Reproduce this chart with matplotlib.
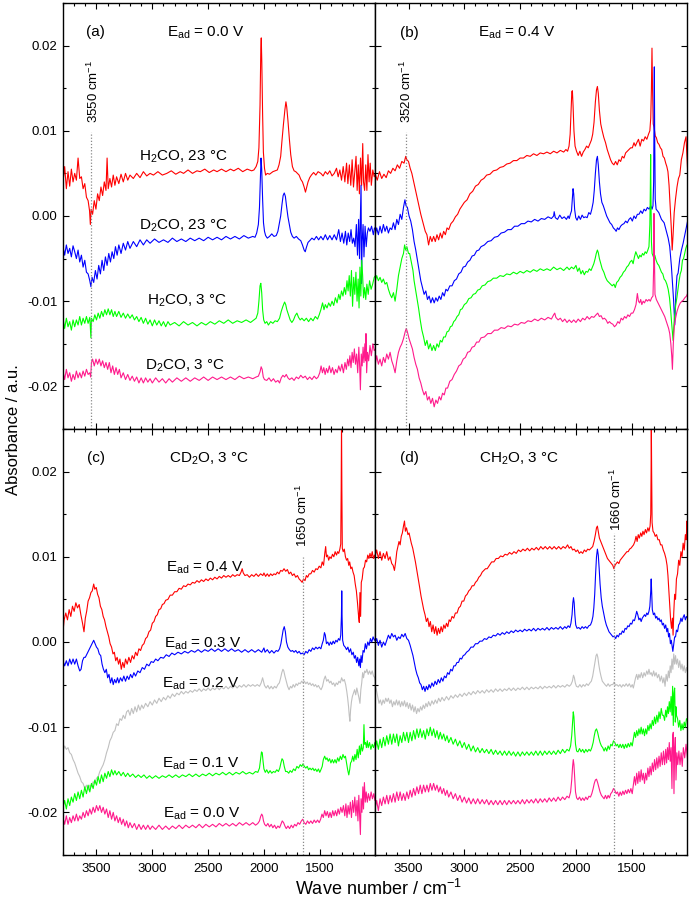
"""
FTIR difference spectra, 2x2 panels: (a)/(b) isotopes at two potentials,
(c)/(d) potential series for CD2O and CH2O at 3 degC.
"""

import matplotlib

matplotlib.use("Agg")
import matplotlib.pyplot as plt  # noqa: E402
from matplotlib.ticker import FormatStrFormatter, MultipleLocator  # noqa: E402

plt.rcParams["font.family"] = ["Liberation Sans", "DejaVu Sans"]
plt.rcParams["mathtext.fontset"] = "custom"
plt.rcParams["mathtext.rm"] = "Liberation Sans"
plt.rcParams["mathtext.it"] = "Liberation Sans"
plt.rcParams["mathtext.bf"] = "Liberation Sans:bold"

# every spectrum: (wave number / cm-1, absorbance / 1e-3 a.u.)

# ---- panel (a), E_ad = 0.0 V ----
A_H2CO_23C = [
    (3800, 4.0), (3785, 5.8), (3770, 3.2), (3755, 5.2), (3740, 3.5), (3725, 5.5), (3710, 4.0),
    (3695, 5.0), (3680, 4.2), (3665, 6.8), (3650, 4.4), (3635, 4.6), (3620, 3.2), (3605, 3.8),
    (3590, 2.2), (3575, 1.8), (3562, 0.6), (3555, -1.0), (3548, 0.8), (3535, 0.2), (3520, 1.8),
    (3505, 0.8), (3490, 2.6), (3475, 1.8), (3460, 3.4), (3445, 2.4), (3430, 4.0), (3415, 3.0),
    (3405, 6.8), (3395, 3.2), (3380, 4.4), (3365, 3.4), (3350, 4.8), (3335, 3.6), (3320, 4.6),
    (3300, 3.8), (3280, 4.9), (3260, 4.0), (3240, 5.0), (3220, 4.2), (3200, 4.8), (3170, 4.4),
    (3140, 5.0), (3110, 4.5), (3080, 5.2), (3050, 4.7), (3020, 5.0), (2990, 4.8), (2950, 5.2),
    (2910, 4.8), (2870, 5.0), (2830, 5.3), (2790, 4.9), (2750, 5.2), (2720, 5.0), (2680, 5.4),
    (2640, 5.0), (2600, 5.3), (2570, 5.2), (2530, 5.5), (2490, 5.1), (2450, 5.4), (2420, 5.2),
    (2380, 5.5), (2340, 5.2), (2300, 5.5), (2270, 5.3), (2230, 5.6), (2190, 5.2), (2150, 5.5),
    (2110, 5.3), (2090, 5.4), (2070, 5.8), (2055, 6.4), (2045, 8.0), (2035, 13.0), (2028, 19.5),
    (2024, 20.9), (2019, 18.0), (2012, 12.0), (2005, 7.5), (1995, 5.6), (1985, 4.8), (1970, 5.0),
    (1950, 4.9), (1920, 5.2), (1900, 5.3), (1880, 5.4), (1865, 6.0), (1850, 7.0), (1838, 8.9),
    (1825, 10.8), (1812, 12.5), (1803, 13.4), (1796, 12.8), (1785, 11.2), (1772, 9.0),
    (1760, 7.2), (1745, 5.8), (1730, 5.3), (1715, 5.2), (1700, 5.0), (1685, 4.8), (1670, 4.3),
    (1655, 4.0), (1640, 3.4), (1628, 2.8), (1618, 3.3), (1605, 4.0), (1590, 4.5), (1575, 4.8),
    (1555, 5.1), (1535, 4.8), (1515, 5.2), (1490, 5.0), (1470, 4.7), (1450, 5.2), (1430, 4.9),
    (1410, 5.3), (1390, 4.7), (1370, 5.0), (1350, 5.6), (1335, 4.6), (1320, 5.4), (1305, 4.2),
    (1290, 5.8), (1275, 4.0), (1260, 6.2), (1248, 3.8), (1235, 6.0), (1222, 3.6), (1210, 6.6),
    (1198, 3.4), (1186, 5.2), (1175, 7.0), (1165, 3.0), (1155, 6.0), (1145, 2.6), (1135, 6.8),
    (1125, 3.6), (1115, 8.5), (1108, 4.0), (1098, 3.0), (1088, 6.0), (1078, 3.0), (1068, 7.2),
    (1058, 4.0), (1048, 6.2), (1038, 3.6), (1025, 5.4), (1012, 4.6), (1000, 5.0),
]
A_D2CO_23C = [
    (3800, -3.6), (3785, -4.6), (3770, -3.4), (3755, -4.4), (3740, -3.8), (3725, -4.8),
    (3710, -3.5), (3695, -4.2), (3680, -5.0), (3665, -4.0), (3650, -5.4), (3635, -4.6),
    (3620, -6.0), (3605, -5.2), (3590, -6.6), (3575, -6.8), (3560, -7.6), (3550, -8.3),
    (3540, -7.2), (3525, -7.8), (3510, -6.4), (3495, -7.4), (3480, -5.8), (3465, -6.8),
    (3450, -5.2), (3435, -6.4), (3420, -4.8), (3405, -5.8), (3390, -4.4), (3375, -5.4),
    (3360, -4.2), (3345, -5.0), (3330, -3.6), (3315, -4.6), (3300, -3.4), (3280, -4.4),
    (3260, -3.2), (3240, -4.0), (3220, -3.0), (3200, -3.8), (3170, -3.0), (3140, -3.6),
    (3110, -2.8), (3080, -3.4), (3050, -2.8), (3020, -3.2), (2980, -2.7), (2940, -3.1),
    (2900, -2.8), (2860, -3.1), (2820, -2.6), (2780, -3.0), (2740, -2.7), (2700, -3.0),
    (2660, -2.6), (2620, -2.9), (2580, -2.6), (2540, -2.9), (2500, -2.5), (2460, -2.8),
    (2420, -2.5), (2380, -2.8), (2340, -2.4), (2300, -2.7), (2260, -2.4), (2220, -2.7),
    (2180, -2.3), (2140, -2.6), (2100, -2.4), (2080, -2.5), (2065, -2.0), (2050, -1.0),
    (2040, 1.0), (2032, 4.5), (2026, 6.8), (2020, 5.5), (2012, 2.0), (2004, -0.8), (1995, -1.8),
    (1985, -2.3), (1970, -2.6), (1950, -2.4), (1930, -2.1), (1910, -2.4), (1890, -2.3),
    (1875, -1.8), (1862, -0.9), (1850, 0.0), (1838, 1.4), (1828, 2.4), (1818, 2.7), (1808, 2.3),
    (1798, 1.2), (1785, -0.1), (1772, -1.0), (1760, -1.9), (1745, -2.4), (1730, -2.6),
    (1710, -2.4), (1690, -2.7), (1670, -2.9), (1655, -3.4), (1640, -4.0), (1630, -4.2),
    (1620, -3.7), (1605, -3.1), (1590, -2.9), (1570, -2.6), (1550, -2.8), (1530, -2.4),
    (1510, -2.8), (1490, -2.4), (1470, -2.8), (1450, -2.2), (1430, -2.8), (1410, -2.3),
    (1390, -2.8), (1370, -2.2), (1350, -2.8), (1330, -1.6), (1315, -3.0), (1300, -2.0),
    (1285, -3.2), (1270, -1.8), (1258, -3.4), (1245, -2.0), (1232, -3.0), (1220, -1.6),
    (1208, -3.2), (1196, -2.6), (1184, -3.6), (1172, -1.0), (1162, -4.6), (1152, -0.4),
    (1144, -5.0), (1136, 0.2), (1130, 3.6), (1126, -7.9), (1120, -3.0), (1112, -1.0),
    (1104, -4.8), (1094, -1.2), (1084, -3.6), (1074, -2.0), (1064, -1.4), (1050, -1.8),
    (1036, -1.2), (1020, -2.2), (1010, -1.4), (1000, -1.6),
]
A_H2CO_3C = [
    (3800, -12.0), (3785, -13.2), (3770, -12.0), (3755, -13.0), (3740, -12.4), (3725, -13.4),
    (3710, -12.2), (3695, -13.0), (3680, -12.2), (3665, -12.8), (3650, -11.8), (3635, -12.8),
    (3620, -12.0), (3605, -12.6), (3590, -11.8), (3575, -12.6), (3560, -11.9), (3550, -14.3),
    (3545, -12.0), (3530, -12.4), (3515, -11.6), (3500, -12.2), (3485, -11.4), (3470, -12.0),
    (3455, -11.2), (3440, -11.8), (3425, -11.0), (3410, -11.6), (3395, -10.9), (3380, -11.6),
    (3365, -11.0), (3350, -11.8), (3335, -11.2), (3320, -11.8), (3300, -11.2), (3280, -11.9),
    (3260, -11.4), (3240, -12.0), (3220, -11.5), (3200, -12.0), (3180, -11.6), (3160, -12.2),
    (3140, -11.8), (3120, -12.4), (3100, -11.9), (3080, -12.6), (3060, -12.0), (3040, -12.7),
    (3020, -12.2), (3000, -12.9), (2980, -12.2), (2960, -12.8), (2940, -12.3), (2920, -12.9),
    (2900, -12.4), (2880, -13.0), (2860, -12.4), (2840, -12.8), (2800, -12.5), (2760, -12.9),
    (2720, -12.4), (2680, -12.8), (2640, -12.5), (2600, -12.9), (2560, -12.5), (2520, -12.8),
    (2480, -12.4), (2440, -12.7), (2400, -12.3), (2360, -12.6), (2320, -12.2), (2280, -12.6),
    (2240, -12.3), (2200, -12.5), (2160, -12.2), (2120, -12.5), (2090, -12.2), (2070, -12.0),
    (2055, -11.4), (2045, -10.0), (2035, -8.2), (2028, -7.9), (2020, -9.0), (2012, -11.0),
    (2002, -12.2), (1990, -12.6), (1975, -12.4), (1960, -12.8), (1940, -12.4), (1920, -12.6),
    (1900, -12.3), (1880, -12.4), (1860, -12.0), (1845, -11.2), (1830, -10.6), (1815, -10.1),
    (1805, -10.4), (1795, -11.0), (1780, -11.6), (1765, -12.2), (1750, -12.5), (1735, -12.2),
    (1720, -11.7), (1705, -11.4), (1690, -11.9), (1675, -12.2), (1660, -12.0), (1640, -12.3),
    (1620, -12.0), (1600, -12.4), (1580, -12.0), (1560, -12.3), (1540, -11.8), (1520, -12.1),
    (1505, -11.6), (1490, -11.0), (1475, -10.2), (1462, -11.0), (1450, -10.4), (1435, -10.8),
    (1420, -10.2), (1405, -10.6), (1390, -10.0), (1375, -10.5), (1360, -9.6), (1345, -10.2),
    (1330, -9.2), (1318, -9.8), (1305, -8.8), (1292, -9.4), (1280, -8.4), (1268, -9.2),
    (1256, -7.6), (1246, -8.8), (1236, -7.0), (1226, -9.4), (1216, -6.4), (1206, -10.6),
    (1196, -7.2), (1186, -9.2), (1176, -6.6), (1166, -10.0), (1156, -7.4), (1148, -10.8),
    (1140, -6.0), (1132, -9.4), (1124, -5.2), (1116, -7.0), (1108, -9.6), (1098, -8.4),
    (1088, -9.8), (1078, -8.0), (1066, -9.2), (1054, -7.6), (1040, -8.6), (1026, -8.0),
    (1012, -7.2), (1000, -7.0),
]
A_D2CO_3C = [
    (3800, -18.2), (3785, -19.2), (3770, -18.0), (3755, -19.0), (3740, -18.4), (3725, -19.4),
    (3710, -18.6), (3695, -19.2), (3680, -18.2), (3665, -19.0), (3650, -18.4), (3635, -19.0),
    (3620, -18.2), (3605, -18.8), (3590, -18.0), (3575, -18.6), (3560, -18.4), (3552, -18.9),
    (3545, -17.2), (3535, -16.8), (3520, -17.6), (3505, -16.8), (3490, -17.4), (3475, -16.8),
    (3460, -17.6), (3445, -17.0), (3430, -17.8), (3415, -17.2), (3400, -18.0), (3385, -17.2),
    (3370, -18.4), (3355, -17.6), (3340, -18.6), (3325, -17.8), (3310, -18.6), (3295, -18.0),
    (3280, -19.0), (3260, -18.4), (3240, -19.2), (3220, -18.6), (3200, -19.3), (3180, -18.8),
    (3160, -19.4), (3140, -18.9), (3120, -19.6), (3100, -19.0), (3080, -19.6), (3060, -19.0),
    (3040, -19.5), (3020, -19.1), (3000, -19.6), (2970, -19.0), (2940, -19.5), (2910, -19.1),
    (2880, -19.6), (2850, -19.1), (2820, -19.5), (2780, -19.0), (2740, -19.4), (2700, -19.0),
    (2660, -19.4), (2620, -19.0), (2580, -19.3), (2540, -18.9), (2500, -19.3), (2460, -18.9),
    (2420, -19.2), (2380, -18.9), (2340, -19.2), (2300, -18.9), (2260, -19.2), (2220, -18.8),
    (2180, -19.1), (2140, -18.9), (2100, -19.1), (2070, -18.9), (2050, -18.8), (2035, -18.3),
    (2025, -17.7), (2016, -18.0), (2006, -18.9), (1995, -19.2), (1975, -19.3), (1955, -19.0),
    (1935, -19.4), (1915, -19.1), (1895, -19.5), (1875, -19.3), (1860, -19.6), (1845, -19.0),
    (1830, -18.7), (1815, -18.9), (1800, -18.6), (1785, -19.0), (1770, -19.2), (1750, -19.0),
    (1730, -19.3), (1710, -18.9), (1690, -19.1), (1670, -18.7), (1650, -19.0), (1630, -18.8),
    (1610, -19.2), (1590, -18.9), (1570, -19.2), (1550, -18.8), (1530, -19.1), (1515, -18.9),
    (1500, -18.4), (1488, -17.6), (1476, -18.4), (1464, -17.8), (1452, -18.6), (1440, -17.9),
    (1428, -18.4), (1414, -17.6), (1400, -18.4), (1386, -17.8), (1372, -18.6), (1358, -18.0),
    (1344, -18.4), (1330, -17.6), (1316, -18.2), (1302, -17.4), (1288, -18.4), (1274, -17.2),
    (1262, -18.0), (1250, -16.8), (1240, -17.6), (1230, -16.4), (1220, -17.8), (1210, -16.0),
    (1200, -17.2), (1190, -15.6), (1180, -17.4), (1170, -16.2), (1160, -18.4), (1150, -15.4),
    (1142, -17.8), (1136, -20.4), (1128, -16.2), (1120, -17.6), (1112, -15.4), (1104, -17.2),
    (1096, -15.0), (1090, -17.0), (1086, -13.8), (1080, -18.4), (1072, -16.0), (1062, -17.0),
    (1050, -15.2), (1038, -16.4), (1024, -15.0), (1012, -15.8), (1000, -15.6),
]

# ---- panel (b), E_ad = 0.4 V ----
B_H2CO_23C = [
    (3800, 5.0), (3780, 4.2), (3760, 5.2), (3740, 4.4), (3720, 4.9), (3700, 4.5), (3680, 5.3),
    (3660, 5.0), (3640, 5.6), (3620, 5.3), (3600, 6.0), (3580, 5.6), (3560, 6.4), (3540, 6.2),
    (3525, 7.0), (3515, 6.6), (3500, 6.4), (3485, 5.6), (3470, 5.0), (3450, 3.8), (3430, 2.6),
    (3410, 1.4), (3390, 0.2), (3370, -0.8), (3350, -1.8), (3335, -2.2), (3320, -3.4),
    (3305, -2.4), (3290, -3.0), (3275, -2.4), (3260, -3.0), (3245, -2.2), (3230, -2.8),
    (3215, -2.0), (3200, -2.6), (3185, -1.8), (3170, -2.2), (3155, -1.4), (3140, -1.6),
    (3120, -0.9), (3100, -0.6), (3080, -0.1), (3060, 0.2), (3040, 0.8), (3020, 1.2), (3000, 1.6),
    (2975, 1.9), (2950, 2.6), (2925, 2.9), (2900, 3.5), (2875, 3.7), (2850, 4.2), (2825, 4.4),
    (2800, 4.8), (2770, 4.9), (2740, 5.3), (2710, 5.4), (2680, 5.7), (2650, 5.8), (2620, 6.1),
    (2590, 6.2), (2560, 6.5), (2530, 6.5), (2500, 6.8), (2470, 6.8), (2440, 7.1), (2410, 7.0),
    (2380, 7.3), (2350, 7.1), (2320, 7.4), (2290, 7.3), (2260, 7.5), (2230, 7.3), (2200, 7.6),
    (2170, 7.4), (2140, 7.7), (2110, 7.5), (2090, 7.8), (2075, 7.6), (2062, 8.2), (2052, 9.6),
    (2044, 12.2), (2037, 14.6), (2032, 14.7), (2026, 13.0), (2018, 10.0), (2008, 8.2),
    (1995, 7.6), (1980, 7.1), (1965, 7.6), (1950, 7.0), (1935, 7.5), (1920, 7.8), (1905, 8.2),
    (1890, 8.0), (1875, 8.5), (1862, 8.9), (1850, 9.6), (1838, 11.0), (1826, 13.4), (1816, 14.8),
    (1808, 15.2), (1800, 14.4), (1790, 12.4), (1778, 10.8), (1765, 10.0), (1750, 9.2),
    (1735, 8.6), (1720, 7.8), (1705, 7.2), (1690, 6.6), (1675, 6.2), (1660, 6.0), (1645, 6.4),
    (1630, 6.0), (1615, 6.6), (1600, 6.4), (1585, 7.0), (1570, 6.8), (1555, 7.4), (1540, 7.6),
    (1525, 7.8), (1510, 8.0), (1495, 8.0), (1480, 8.6), (1468, 8.2), (1455, 8.6), (1440, 9.0),
    (1425, 8.2), (1410, 9.0), (1395, 8.8), (1380, 9.3), (1365, 9.0), (1350, 9.6), (1338, 10.0),
    (1330, 11.5), (1324, 15.0), (1319, 19.7), (1314, 15.0), (1308, 10.8), (1300, 10.4),
    (1290, 9.4), (1280, 9.2), (1268, 8.6), (1256, 8.4), (1244, 8.0), (1232, 7.8), (1220, 7.0),
    (1208, 6.8), (1196, 6.2), (1186, 5.8), (1176, 5.2), (1166, 3.6), (1156, 1.2), (1146, -1.4),
    (1138, -4.0), (1130, -2.2), (1120, 0.4), (1108, 2.0), (1095, 3.4), (1082, 4.4), (1070, 4.8),
    (1056, 6.6), (1042, 7.4), (1028, 8.6), (1014, 9.3), (1006, 7.2), (1000, 5.4),
]
B_D2CO_23C = [
    (3800, -2.4), (3785, -1.4), (3770, -2.2), (3755, -1.2), (3740, -2.0), (3725, -1.0),
    (3710, -1.8), (3695, -1.2), (3680, -2.0), (3665, -1.4), (3650, -1.6), (3635, -0.8),
    (3620, -1.6), (3605, -0.4), (3590, -1.0), (3575, 0.2), (3560, -0.4), (3545, 1.0),
    (3532, 1.9), (3522, 1.2), (3510, 1.0), (3495, 0.0), (3480, -0.6), (3465, -1.6), (3450, -3.0),
    (3435, -4.0), (3420, -5.2), (3405, -6.4), (3390, -7.6), (3375, -8.4), (3360, -9.2),
    (3345, -8.8), (3330, -9.8), (3315, -9.4), (3300, -10.2), (3285, -9.6), (3270, -10.2),
    (3255, -9.6), (3240, -10.0), (3225, -9.4), (3210, -9.8), (3195, -9.0), (3180, -9.4),
    (3165, -8.6), (3150, -8.8), (3130, -8.2), (3110, -8.2), (3090, -7.6), (3070, -7.4),
    (3050, -6.8), (3030, -6.6), (3010, -6.0), (2990, -5.9), (2970, -5.4), (2950, -5.2),
    (2930, -4.7), (2910, -4.6), (2890, -4.1), (2870, -4.0), (2850, -3.6), (2820, -3.4),
    (2790, -3.0), (2760, -2.9), (2730, -2.5), (2700, -2.4), (2670, -2.0), (2640, -1.9),
    (2610, -1.6), (2580, -1.6), (2550, -1.2), (2520, -1.2), (2490, -0.9), (2460, -0.9),
    (2430, -0.6), (2400, -0.7), (2370, -0.4), (2340, -0.6), (2310, -0.3), (2280, -0.4),
    (2250, -0.1), (2220, -0.3), (2200, 0.0), (2195, 0.5), (2185, -0.2), (2165, -0.4), (2145, 0.1),
    (2125, -0.3), (2105, -0.1), (2085, -0.4), (2070, 0.0), (2060, -0.3), (2050, 0.2), (2040, 0.6),
    (2032, 2.0), (2026, 3.2), (2020, 2.6), (2012, 0.8), (2002, -0.2), (1990, -0.5), (1975, 0.0),
    (1960, -0.4), (1945, 0.1), (1930, -0.2), (1915, -0.1), (1900, -0.2), (1885, 0.4), (1870, 0.2),
    (1858, 0.8), (1846, 1.6), (1836, 3.0), (1826, 5.0), (1816, 6.6), (1808, 7.0), (1800, 6.0),
    (1790, 4.0), (1780, 2.6), (1768, 1.6), (1755, 1.2), (1740, 0.6), (1725, 0.0), (1710, -0.4),
    (1695, -0.8), (1680, -1.0), (1665, -1.4), (1650, -1.6), (1640, -1.8), (1628, -1.4),
    (1615, -1.6), (1600, -1.2), (1585, -1.0), (1570, -0.9), (1555, -0.6), (1540, -0.8),
    (1525, -0.4), (1510, -0.2), (1495, -0.6), (1480, 0.0), (1465, -0.3), (1450, 0.2), (1435, 0.2),
    (1420, 0.6), (1405, 0.3), (1390, 0.8), (1375, 0.6), (1360, 1.0), (1345, 0.8), (1330, 1.2),
    (1318, 0.8), (1310, 1.2), (1304, 4.0), (1300, 12.0), (1298, 17.5), (1295, 10.0), (1290, 2.0),
    (1282, 0.8), (1270, 0.6), (1258, 0.4), (1246, 0.0), (1234, -0.4), (1222, -0.6), (1210, -0.8),
    (1198, -1.4), (1186, -2.0), (1174, -2.6), (1160, -3.6), (1145, -5.9), (1135, -8.0),
    (1125, -10.0), (1115, -12.8), (1105, -9.0), (1095, -7.0), (1085, -6.7), (1070, -5.0),
    (1055, -4.0), (1040, -3.2), (1025, -2.2), (1010, -1.2), (1000, -0.6),
]
B_H2CO_3C = [
    (3800, -7.8), (3785, -7.0), (3770, -7.6), (3755, -7.2), (3740, -7.8), (3725, -7.4),
    (3710, -8.0), (3695, -7.8), (3680, -8.6), (3665, -9.2), (3650, -9.6), (3635, -9.0),
    (3620, -10.0), (3605, -8.6), (3590, -7.0), (3575, -6.0), (3560, -5.0), (3545, -4.4),
    (3535, -3.4), (3525, -4.0), (3515, -3.6), (3500, -4.4), (3490, -4.4), (3475, -5.4),
    (3460, -6.4), (3450, -7.6), (3440, -8.4), (3425, -9.6), (3410, -10.8), (3395, -12.2),
    (3380, -13.4), (3365, -14.2), (3350, -15.2), (3335, -14.6), (3320, -15.6), (3305, -15.0),
    (3290, -15.8), (3275, -15.2), (3260, -15.8), (3245, -15.0), (3230, -15.4), (3215, -14.6),
    (3200, -14.8), (3185, -14.2), (3170, -14.2), (3155, -13.6), (3140, -13.5), (3125, -13.0),
    (3110, -12.9), (3095, -12.4), (3080, -12.2), (3065, -11.8), (3050, -11.6), (3035, -11.0),
    (3020, -10.9), (3000, -10.4), (2980, -10.2), (2960, -9.7), (2940, -9.6), (2920, -9.2),
    (2900, -9.1), (2880, -8.7), (2860, -8.6), (2840, -8.2), (2815, -8.1), (2790, -7.7),
    (2765, -7.6), (2740, -7.3), (2710, -7.3), (2680, -7.0), (2650, -7.1), (2620, -6.8),
    (2590, -6.9), (2560, -6.6), (2530, -6.8), (2500, -6.5), (2470, -6.7), (2440, -6.4),
    (2410, -6.6), (2380, -6.3), (2350, -6.5), (2320, -6.2), (2290, -6.4), (2260, -6.2),
    (2230, -6.4), (2200, -6.0), (2170, -6.3), (2140, -6.1), (2110, -6.4), (2080, -6.0),
    (2060, -6.3), (2040, -6.0), (2020, -6.2), (2000, -5.8), (1985, -6.5), (1970, -6.1),
    (1955, -6.8), (1940, -6.4), (1925, -6.9), (1910, -6.5), (1895, -6.6), (1880, -6.2),
    (1865, -6.4), (1852, -6.0), (1840, -5.6), (1828, -5.0), (1818, -4.4), (1808, -4.0),
    (1800, -4.3), (1790, -5.0), (1778, -5.6), (1765, -6.2), (1750, -6.6), (1735, -7.2),
    (1720, -7.6), (1705, -7.8), (1690, -8.0), (1675, -8.2), (1660, -8.0), (1648, -8.4),
    (1635, -7.8), (1620, -7.6), (1605, -7.2), (1590, -7.0), (1575, -6.6), (1560, -6.4),
    (1545, -6.0), (1530, -5.8), (1515, -5.4), (1500, -5.2), (1488, -5.6), (1476, -4.8),
    (1464, -4.2), (1452, -4.6), (1440, -5.0), (1428, -4.6), (1416, -4.8), (1404, -4.4),
    (1392, -4.6), (1380, -4.2), (1368, -4.4), (1356, -4.0), (1346, -3.6), (1338, -1.0),
    (1334, 3.0), (1331, 7.2), (1328, 2.0), (1324, -3.0), (1318, -4.4), (1306, -4.8),
    (1294, -4.6), (1282, -5.2), (1270, -5.6), (1258, -5.8), (1246, -6.2), (1234, -6.6),
    (1222, -6.8), (1210, -7.4), (1198, -7.6), (1186, -8.0), (1174, -8.6), (1162, -9.6),
    (1152, -11.0), (1144, -12.4), (1136, -13.6), (1130, -14.6), (1124, -13.0), (1116, -11.6),
    (1106, -10.4), (1096, -9.6), (1086, -8.6), (1076, -7.6), (1066, -6.8), (1056, -6.4),
    (1046, -5.2), (1036, -5.0), (1026, -4.4), (1016, -3.8), (1006, -3.4), (1000, -3.6),
]
B_D2CO_3C = [
    (3800, -17.6), (3785, -16.4), (3770, -17.4), (3755, -16.8), (3740, -17.6), (3725, -16.6),
    (3710, -17.2), (3695, -16.2), (3680, -16.8), (3665, -16.0), (3650, -17.0), (3635, -17.6),
    (3620, -18.4), (3605, -17.0), (3590, -16.0), (3575, -15.4), (3560, -15.0), (3545, -14.4),
    (3530, -13.6), (3520, -13.2), (3510, -13.6), (3495, -14.4), (3480, -15.0), (3465, -15.6),
    (3450, -16.6), (3435, -17.4), (3420, -18.0), (3405, -19.0), (3390, -19.6), (3375, -20.4),
    (3360, -21.0), (3345, -20.6), (3330, -21.6), (3315, -21.2), (3300, -22.0), (3285, -21.4),
    (3270, -22.4), (3255, -21.6), (3240, -22.0), (3225, -21.2), (3210, -21.6), (3195, -20.8),
    (3180, -21.0), (3165, -20.2), (3150, -20.2), (3130, -19.4), (3110, -19.2), (3090, -18.6),
    (3070, -18.2), (3050, -17.6), (3030, -17.4), (3010, -16.8), (2990, -16.6), (2970, -16.0),
    (2950, -15.9), (2930, -15.4), (2910, -15.3), (2890, -14.8), (2870, -14.8), (2850, -14.3),
    (2820, -14.2), (2790, -13.8), (2760, -13.8), (2730, -13.4), (2700, -13.4), (2670, -13.1),
    (2640, -13.2), (2610, -12.9), (2580, -13.0), (2550, -12.7), (2520, -12.8), (2490, -12.5),
    (2460, -12.6), (2430, -12.3), (2400, -12.4), (2370, -12.1), (2340, -12.3), (2310, -12.0),
    (2280, -12.2), (2250, -11.9), (2220, -12.1), (2200, -11.6), (2190, -11.4), (2180, -11.9),
    (2160, -12.2), (2140, -12.0), (2120, -12.4), (2100, -12.1), (2080, -12.5), (2060, -12.2),
    (2040, -12.5), (2020, -12.2), (2000, -12.5), (1980, -12.1), (1960, -12.4), (1940, -12.0),
    (1920, -12.2), (1900, -11.8), (1880, -12.1), (1860, -11.8), (1840, -11.9), (1820, -11.6),
    (1805, -11.4), (1790, -11.8), (1775, -11.7), (1760, -12.1), (1745, -12.0), (1730, -12.2),
    (1715, -12.6), (1700, -12.4), (1685, -12.6), (1670, -12.7), (1655, -13.0), (1640, -12.8),
    (1625, -12.4), (1610, -12.6), (1595, -12.0), (1580, -12.2), (1565, -11.8), (1550, -12.0),
    (1535, -11.6), (1520, -11.8), (1505, -11.4), (1490, -11.4), (1476, -11.0), (1462, -10.4),
    (1450, -9.1), (1440, -10.0), (1430, -10.2), (1420, -9.8), (1410, -10.4), (1398, -10.0),
    (1386, -10.2), (1372, -9.8), (1360, -10.0), (1346, -9.8), (1334, -10.0), (1322, -9.6),
    (1310, -9.4), (1304, -6.0), (1301, 0.3), (1298, -4.0), (1292, -9.2), (1280, -9.8),
    (1265, -10.2), (1250, -10.6), (1235, -11.0), (1220, -11.4), (1205, -11.8), (1185, -12.6),
    (1170, -13.2), (1160, -13.8), (1150, -15.0), (1142, -16.4), (1136, -18.0), (1128, -15.0),
    (1118, -12.8), (1108, -12.0), (1095, -11.2), (1080, -10.6), (1065, -10.2), (1050, -10.0),
    (1040, -9.9), (1025, -9.6), (1010, -9.4), (1000, -9.1),
]

# ---- panel (c), CD2O at 3 degC, E_ad = 0.4 ... 0.0 V ----
C_E04 = [
    (3800, 1.2), (3790, 2.6), (3775, 3.4), (3760, 2.6), (3745, 3.8), (3730, 3.0), (3715, 4.2),
    (3700, 3.6), (3685, 4.6), (3670, 4.0), (3655, 4.4), (3640, 3.2), (3625, 2.2), (3612, 1.2),
    (3600, 2.8), (3588, 3.6), (3575, 4.8), (3562, 5.2), (3550, 5.8), (3538, 6.0), (3525, 6.8),
    (3515, 6.2), (3502, 6.4), (3490, 5.6), (3478, 5.2), (3465, 4.2), (3452, 3.8), (3440, 3.0),
    (3428, 2.6), (3415, 1.8), (3402, 1.2), (3390, 0.6), (3378, -0.2), (3365, -0.6), (3352, -1.4),
    (3340, -1.2), (3328, -2.2), (3315, -1.8), (3302, -2.6), (3290, -2.0), (3278, -3.2),
    (3265, -2.4), (3252, -3.0), (3240, -2.0), (3225, -2.6), (3210, -1.8), (3195, -2.4),
    (3180, -1.6), (3165, -2.0), (3150, -1.2), (3135, -1.6), (3120, -0.8), (3105, -1.0),
    (3090, -0.4), (3075, -0.2), (3060, 0.4), (3045, 0.6), (3030, 1.2), (3015, 1.4), (3000, 2.2),
    (2985, 2.4), (2970, 3.0), (2955, 3.2), (2940, 3.8), (2925, 3.9), (2910, 4.4), (2895, 4.5),
    (2880, 4.9), (2860, 5.0), (2840, 5.5), (2820, 5.5), (2800, 5.9), (2780, 5.9), (2760, 6.3),
    (2740, 6.2), (2720, 6.6), (2700, 6.5), (2680, 6.8), (2660, 6.7), (2640, 7.0), (2620, 6.9),
    (2600, 7.2), (2580, 7.0), (2560, 7.3), (2540, 7.1), (2520, 7.4), (2500, 7.2), (2480, 7.5),
    (2460, 7.3), (2440, 7.6), (2420, 7.4), (2400, 7.7), (2380, 7.5), (2360, 7.8), (2340, 7.6),
    (2320, 7.8), (2300, 7.6), (2280, 7.9), (2260, 7.7), (2240, 7.9), (2220, 7.8), (2205, 8.2),
    (2195, 8.6), (2185, 8.1), (2170, 7.8), (2150, 7.9), (2130, 7.6), (2110, 7.9), (2090, 7.7),
    (2070, 8.0), (2050, 7.7), (2030, 8.0), (2010, 7.8), (2000, 8.1), (1985, 7.7), (1970, 8.0),
    (1955, 7.7), (1940, 8.0), (1925, 7.8), (1910, 8.0), (1895, 7.9), (1880, 8.2), (1865, 8.0),
    (1850, 8.4), (1835, 8.3), (1820, 8.6), (1805, 8.3), (1790, 8.5), (1775, 8.0), (1760, 8.2),
    (1745, 7.8), (1730, 8.0), (1715, 7.6), (1700, 7.8), (1685, 7.4), (1670, 7.2), (1658, 7.0),
    (1645, 7.4), (1632, 7.2), (1620, 7.8), (1608, 7.6), (1595, 8.0), (1580, 8.0), (1565, 8.4),
    (1550, 8.2), (1535, 8.6), (1520, 8.5), (1505, 8.9), (1490, 8.7), (1478, 9.4), (1466, 9.0),
    (1455, 10.4), (1447, 11.2), (1440, 10.0), (1430, 10.2), (1420, 9.6), (1410, 10.0),
    (1398, 9.8), (1386, 10.3), (1374, 10.0), (1362, 10.6), (1350, 10.2), (1340, 10.6),
    (1330, 10.4), (1320, 10.9), (1312, 11.5), (1308, 18.0), (1305, 26.0), (1302, 18.0),
    (1298, 11.0), (1290, 10.6), (1280, 10.9), (1270, 10.0), (1260, 9.6), (1250, 9.8), (1240, 9.0),
    (1232, 9.4), (1222, 8.6), (1212, 8.8), (1202, 8.2), (1192, 7.8), (1182, 6.8), (1172, 6.0),
    (1162, 4.6), (1152, 3.0), (1146, 2.3), (1140, 5.8), (1134, 3.0), (1128, 7.0), (1120, 7.4),
    (1110, 8.6), (1100, 8.8), (1090, 9.6), (1080, 9.4), (1070, 10.2), (1060, 9.8), (1050, 10.4),
    (1040, 9.9), (1030, 10.6), (1020, 9.8), (1010, 10.2), (1000, 9.7),
]
C_E03 = [
    (3800, -2.2), (3785, -2.8), (3770, -2.2), (3755, -2.8), (3740, -2.0), (3725, -2.6),
    (3710, -2.0), (3695, -2.6), (3680, -2.0), (3665, -2.8), (3650, -3.4), (3638, -3.2),
    (3625, -2.2), (3612, -1.8), (3600, -1.8), (3585, -1.4), (3570, -1.0), (3555, -0.6),
    (3540, -0.2), (3525, 0.2), (3512, -0.2), (3500, -0.6), (3488, -0.8), (3475, -1.4),
    (3462, -1.6), (3450, -2.6), (3438, -3.2), (3425, -3.6), (3412, -3.2), (3400, -4.2),
    (3388, -3.8), (3375, -4.8), (3362, -4.2), (3350, -5.0), (3338, -4.4), (3325, -4.8),
    (3312, -4.2), (3300, -4.8), (3285, -4.2), (3270, -4.6), (3255, -4.0), (3240, -4.6),
    (3225, -4.0), (3210, -4.4), (3195, -3.8), (3180, -4.2), (3165, -3.6), (3150, -4.0),
    (3130, -3.4), (3110, -3.6), (3090, -3.0), (3070, -3.2), (3050, -2.6), (3030, -2.8),
    (3010, -2.3), (2990, -2.4), (2970, -2.0), (2950, -2.2), (2925, -1.8), (2900, -1.9),
    (2875, -1.5), (2850, -1.7), (2825, -1.3), (2800, -1.5), (2770, -1.2), (2740, -1.4),
    (2710, -1.1), (2680, -1.3), (2650, -1.0), (2620, -1.2), (2590, -0.9), (2560, -1.2),
    (2530, -0.9), (2500, -1.1), (2470, -0.8), (2440, -1.1), (2410, -0.8), (2380, -1.1),
    (2350, -0.8), (2320, -1.1), (2290, -0.8), (2260, -1.1), (2230, -0.9), (2200, -1.2),
    (2170, -0.9), (2140, -1.2), (2110, -0.9), (2080, -1.2), (2050, -0.9), (2020, -1.2),
    (2000, -0.7), (1990, -1.2), (1970, -0.9), (1950, -1.3), (1930, -1.0), (1910, -1.3),
    (1890, -1.0), (1875, -1.1), (1860, -0.8), (1848, -0.2), (1838, 0.6), (1828, 1.4),
    (1818, 1.8), (1808, 1.2), (1798, 0.0), (1786, -0.6), (1772, -0.9), (1758, -1.1),
    (1744, -1.0), (1730, -1.2), (1715, -1.0), (1700, -1.3), (1685, -1.1), (1670, -1.4),
    (1655, -1.3), (1640, -1.5), (1625, -1.1), (1610, -1.3), (1595, -0.9), (1580, -1.1),
    (1565, -0.7), (1550, -0.9), (1535, -0.6), (1520, -0.8), (1505, -0.6), (1490, -0.8),
    (1478, -0.2), (1468, 0.2), (1458, 1.1), (1450, 0.8), (1440, -0.2), (1428, 0.0),
    (1416, -0.4), (1404, 0.0), (1392, -0.3), (1380, 0.1), (1368, -0.2), (1356, 0.2),
    (1344, 0.0), (1332, 0.4), (1320, 0.2), (1312, 0.8), (1306, 3.0), (1303, 6.0), (1300, 3.0),
    (1295, 0.2), (1285, -0.4), (1272, -0.6), (1260, -0.9), (1248, -0.6), (1236, -1.2),
    (1224, -0.8), (1212, -1.5), (1200, -1.2), (1190, -1.9), (1180, -1.6), (1170, -2.4),
    (1160, -1.8), (1150, -2.8), (1142, -2.0), (1136, -3.0), (1130, -1.6), (1122, -2.4),
    (1112, -1.0), (1102, -1.2), (1092, -0.2), (1082, -0.8), (1070, 0.0), (1058, -0.4),
    (1046, 0.4), (1034, 0.0), (1022, 0.6), (1010, 0.2), (1000, 0.4),
]
C_E02 = [
    (3800, -12.8), (3785, -12.2), (3770, -12.6), (3755, -12.4), (3740, -13.0), (3725, -13.2),
    (3710, -13.8), (3695, -14.2), (3680, -14.8), (3665, -15.4), (3650, -15.8), (3635, -16.4),
    (3620, -16.6), (3605, -17.2), (3590, -16.8), (3575, -17.4), (3560, -16.8), (3545, -17.0),
    (3530, -16.4), (3515, -16.6), (3500, -16.0), (3485, -15.8), (3470, -15.2), (3455, -14.8),
    (3440, -14.4), (3425, -13.8), (3410, -13.0), (3395, -12.4), (3380, -11.6), (3365, -11.2),
    (3350, -10.6), (3335, -10.4), (3320, -9.6), (3305, -9.8), (3290, -9.0), (3275, -9.2),
    (3260, -8.6), (3245, -9.0), (3230, -8.2), (3215, -8.0), (3200, -8.6), (3185, -7.8),
    (3170, -8.4), (3155, -7.6), (3140, -8.2), (3125, -7.4), (3110, -8.0), (3095, -7.4),
    (3080, -7.8), (3060, -7.2), (3040, -7.6), (3020, -7.0), (3000, -7.4), (2980, -6.8),
    (2960, -7.2), (2940, -6.6), (2920, -7.0), (2900, -6.5), (2880, -6.8), (2860, -6.3),
    (2840, -6.6), (2820, -6.1), (2800, -6.4), (2780, -6.0), (2760, -6.2), (2740, -5.8),
    (2720, -6.1), (2700, -5.8), (2680, -6.0), (2660, -5.7), (2640, -5.9), (2620, -5.6),
    (2600, -5.8), (2580, -5.5), (2560, -5.8), (2540, -5.5), (2520, -5.7), (2500, -5.4),
    (2480, -5.7), (2460, -5.4), (2440, -5.6), (2420, -5.3), (2400, -5.6), (2380, -5.3),
    (2360, -5.5), (2340, -5.2), (2320, -5.5), (2300, -5.2), (2280, -5.4), (2260, -5.1),
    (2240, -5.4), (2220, -5.1), (2200, -5.3), (2180, -5.0), (2160, -5.3), (2140, -5.0),
    (2120, -5.2), (2100, -5.0), (2080, -5.2), (2060, -5.0), (2040, -5.2), (2025, -4.8),
    (2012, -4.2), (2004, -4.6), (1995, -5.1), (1980, -5.4), (1965, -5.1), (1950, -5.5),
    (1935, -5.2), (1920, -5.5), (1905, -5.2), (1890, -5.4), (1875, -5.0), (1862, -4.8),
    (1850, -4.2), (1840, -3.6), (1830, -3.2), (1822, -3.4), (1812, -4.0), (1800, -4.6),
    (1788, -5.2), (1775, -5.6), (1762, -5.2), (1750, -5.4), (1738, -5.0), (1725, -5.3),
    (1712, -4.9), (1700, -5.1), (1688, -4.8), (1675, -4.9), (1662, -4.6), (1650, -4.8),
    (1638, -4.6), (1625, -4.9), (1612, -4.7), (1600, -5.0), (1588, -4.8), (1575, -5.1),
    (1562, -4.9), (1550, -5.2), (1538, -5.0), (1525, -5.3), (1512, -5.1), (1500, -5.4),
    (1488, -5.6), (1475, -5.2), (1462, -4.4), (1450, -4.0), (1438, -4.6), (1425, -4.4),
    (1412, -4.8), (1400, -4.6), (1388, -5.0), (1376, -4.8), (1364, -5.2), (1352, -4.8),
    (1340, -5.0), (1328, -4.6), (1316, -4.8), (1304, -4.2), (1292, -4.6), (1280, -4.4),
    (1268, -5.0), (1258, -5.8), (1250, -6.6), (1242, -7.6), (1236, -8.6), (1230, -9.3),
    (1224, -8.0), (1216, -7.0), (1208, -6.4), (1198, -6.0), (1188, -5.6), (1178, -6.2),
    (1168, -5.4), (1158, -6.0), (1148, -6.6), (1140, -7.2), (1132, -5.6), (1124, -4.8),
    (1116, -3.6), (1108, -4.2), (1098, -3.4), (1088, -3.6), (1078, -3.2), (1066, -3.8),
    (1054, -3.4), (1042, -3.8), (1030, -3.4), (1018, -4.0), (1006, -4.2), (1000, -4.6),
]
C_E01 = [
    (3800, -19.4), (3785, -18.6), (3770, -19.6), (3755, -18.4), (3740, -19.2), (3725, -18.2),
    (3710, -18.8), (3695, -17.8), (3680, -18.6), (3665, -17.6), (3650, -18.4), (3635, -17.4),
    (3620, -18.2), (3605, -17.0), (3590, -17.8), (3575, -16.8), (3560, -17.6), (3545, -16.6),
    (3530, -17.2), (3515, -16.2), (3500, -16.8), (3485, -15.8), (3470, -16.6), (3455, -15.6),
    (3440, -16.4), (3425, -15.4), (3410, -16.0), (3395, -15.2), (3380, -15.8), (3365, -15.0),
    (3350, -15.6), (3335, -15.1), (3320, -15.6), (3300, -15.2), (3280, -15.7), (3260, -15.3),
    (3240, -15.8), (3220, -15.4), (3200, -15.8), (3175, -15.5), (3150, -15.9), (3125, -15.6),
    (3100, -15.9), (3075, -15.6), (3050, -16.0), (3025, -15.7), (3000, -16.0), (2970, -15.7),
    (2940, -16.0), (2910, -15.7), (2880, -15.9), (2850, -15.6), (2820, -15.9), (2790, -15.6),
    (2760, -15.9), (2730, -15.6), (2700, -15.8), (2670, -15.5), (2640, -15.8), (2610, -15.5),
    (2580, -15.8), (2550, -15.5), (2520, -15.7), (2490, -15.4), (2460, -15.7), (2430, -15.4),
    (2400, -15.6), (2370, -15.3), (2340, -15.6), (2310, -15.3), (2280, -15.6), (2250, -15.3),
    (2220, -15.5), (2190, -15.2), (2160, -15.5), (2130, -15.3), (2100, -15.5), (2075, -15.2),
    (2055, -15.3), (2040, -14.8), (2030, -13.8), (2022, -12.9), (2015, -13.0), (2008, -14.0),
    (2000, -14.9), (1988, -15.3), (1975, -15.0), (1960, -15.4), (1945, -15.1), (1930, -15.4),
    (1915, -15.2), (1900, -15.3), (1885, -15.0), (1870, -15.2), (1858, -14.8), (1848, -14.2),
    (1838, -13.7), (1828, -13.9), (1818, -14.6), (1806, -15.2), (1792, -15.2), (1778, -15.4),
    (1765, -15.1), (1750, -15.3), (1735, -14.9), (1720, -15.1), (1705, -14.6), (1690, -14.8),
    (1675, -14.4), (1662, -14.6), (1650, -14.3), (1638, -14.6), (1625, -14.8), (1612, -14.6),
    (1600, -15.0), (1588, -14.8), (1575, -15.0), (1562, -14.8), (1550, -15.1), (1538, -14.9),
    (1525, -15.2), (1512, -14.9), (1500, -15.3), (1490, -15.0), (1478, -14.6), (1468, -13.8),
    (1456, -13.4), (1445, -13.8), (1435, -13.6), (1424, -14.0), (1412, -13.7), (1400, -14.2),
    (1388, -13.8), (1376, -14.2), (1364, -13.8), (1352, -14.2), (1340, -13.6), (1328, -14.0),
    (1316, -13.4), (1304, -13.8), (1292, -13.2), (1280, -13.6), (1270, -13.4), (1260, -14.2),
    (1250, -15.0), (1240, -15.6), (1232, -15.0), (1224, -14.2), (1215, -14.0), (1205, -13.4),
    (1195, -14.0), (1185, -13.2), (1175, -13.8), (1165, -12.6), (1155, -13.6), (1145, -12.2),
    (1136, -13.2), (1128, -12.0), (1118, -12.8), (1110, -12.4), (1104, -9.7), (1098, -12.0),
    (1090, -11.8), (1082, -12.4), (1074, -11.6), (1066, -12.4), (1054, -11.8), (1042, -12.6),
    (1030, -12.0), (1018, -12.4), (1006, -11.8), (1000, -12.2),
]
C_E00 = [
    (3800, -20.6), (3785, -21.4), (3770, -20.4), (3755, -21.4), (3740, -20.6), (3725, -21.2),
    (3710, -20.4), (3695, -21.0), (3680, -20.2), (3665, -21.0), (3650, -20.4), (3635, -20.8),
    (3620, -20.0), (3605, -20.6), (3590, -19.8), (3575, -20.4), (3560, -19.6), (3545, -20.2),
    (3530, -19.4), (3515, -20.0), (3500, -19.2), (3485, -19.8), (3470, -19.2), (3455, -20.0),
    (3440, -19.4), (3425, -20.2), (3410, -19.6), (3395, -20.6), (3380, -19.8), (3365, -20.8),
    (3350, -20.0), (3335, -21.0), (3320, -20.4), (3305, -21.2), (3290, -20.6), (3275, -21.4),
    (3260, -20.8), (3245, -21.6), (3230, -21.0), (3215, -21.8), (3200, -21.2), (3180, -21.8),
    (3160, -21.3), (3140, -22.0), (3120, -21.4), (3100, -22.0), (3080, -21.5), (3060, -22.0),
    (3040, -21.5), (3020, -22.0), (3000, -21.6), (2970, -22.0), (2940, -21.5), (2910, -22.0),
    (2880, -21.6), (2850, -22.0), (2820, -21.6), (2790, -21.9), (2760, -21.5), (2730, -21.9),
    (2700, -21.5), (2670, -21.8), (2640, -21.5), (2610, -21.8), (2580, -21.4), (2550, -21.8),
    (2520, -21.4), (2490, -21.7), (2460, -21.4), (2430, -21.7), (2400, -21.3), (2370, -21.6),
    (2340, -21.3), (2310, -21.6), (2280, -21.3), (2250, -21.6), (2220, -21.2), (2190, -21.5),
    (2160, -21.2), (2130, -21.5), (2100, -21.2), (2075, -21.5), (2055, -21.3), (2040, -21.0),
    (2030, -20.5), (2020, -20.2), (2012, -20.4), (2004, -21.0), (1994, -21.4), (1980, -21.6),
    (1965, -21.3), (1950, -21.7), (1935, -21.4), (1920, -21.8), (1905, -21.5), (1890, -21.9),
    (1875, -21.6), (1860, -21.8), (1848, -21.4), (1836, -21.0), (1824, -21.2), (1812, -21.6),
    (1800, -21.9), (1785, -21.6), (1770, -21.9), (1755, -21.5), (1740, -21.8), (1725, -21.4),
    (1710, -21.6), (1695, -21.2), (1680, -21.4), (1665, -21.0), (1652, -20.8), (1640, -21.2),
    (1625, -21.4), (1610, -21.0), (1595, -21.3), (1580, -21.0), (1565, -21.3), (1550, -20.9),
    (1535, -21.2), (1520, -20.9), (1505, -21.2), (1492, -20.8), (1480, -20.2), (1468, -20.6),
    (1456, -19.8), (1444, -20.4), (1432, -19.9), (1420, -20.6), (1408, -20.0), (1396, -20.6),
    (1384, -19.8), (1372, -20.4), (1360, -19.8), (1348, -20.4), (1336, -19.6), (1324, -20.2),
    (1312, -19.4), (1300, -20.0), (1288, -19.2), (1276, -20.4), (1266, -19.0), (1256, -20.6),
    (1246, -19.2), (1236, -20.2), (1226, -18.8), (1216, -20.6), (1206, -18.6), (1196, -20.0),
    (1186, -18.2), (1176, -20.4), (1166, -18.6), (1158, -21.0), (1150, -18.0), (1142, -20.8),
    (1136, -22.6), (1130, -18.4), (1122, -20.0), (1114, -17.0), (1108, -19.6), (1100, -16.5),
    (1092, -18.8), (1084, -17.6), (1074, -18.8), (1064, -17.8), (1052, -18.6), (1040, -17.6),
    (1028, -18.4), (1016, -17.8), (1006, -18.6), (1000, -18.2),
]

# ---- panel (d), CH2O at 3 degC, E_ad = 0.4 ... 0.0 V ----
D_E04 = [
    (3800, 10.0), (3785, 10.8), (3770, 9.8), (3755, 10.6), (3740, 9.6), (3725, 10.4), (3710, 9.8),
    (3695, 10.6), (3680, 9.6), (3665, 10.0), (3650, 9.2), (3638, 9.0), (3626, 8.4), (3615, 9.4),
    (3605, 10.6), (3595, 11.2), (3585, 11.8), (3575, 11.4), (3565, 12.4), (3555, 12.8),
    (3545, 13.6), (3536, 14.2), (3528, 13.0), (3518, 13.4), (3505, 12.6), (3495, 12.8),
    (3485, 12.2), (3475, 11.6), (3462, 11.0), (3450, 10.2), (3438, 9.4), (3425, 8.4), (3412, 7.4),
    (3400, 6.4), (3388, 5.4), (3376, 4.6), (3364, 3.8), (3352, 3.2), (3340, 2.4), (3328, 2.8),
    (3316, 1.8), (3304, 2.4), (3292, 1.2), (3280, 2.0), (3268, 1.0), (3256, 1.8), (3244, 0.8),
    (3232, 1.6), (3220, 1.0), (3208, 1.8), (3196, 1.2), (3184, 2.0), (3172, 1.6), (3160, 2.2),
    (3148, 1.8), (3136, 2.6), (3124, 2.4), (3110, 3.0), (3095, 2.8), (3080, 3.4), (3065, 3.4),
    (3050, 4.0), (3035, 4.2), (3020, 4.8), (3005, 4.8), (2990, 5.4), (2975, 5.6), (2960, 6.0),
    (2945, 6.2), (2930, 6.6), (2915, 6.6), (2900, 7.0), (2885, 7.2), (2870, 7.6), (2855, 7.8),
    (2840, 8.2), (2825, 8.4), (2810, 8.6), (2795, 8.6), (2775, 9.0), (2755, 9.4), (2735, 9.4),
    (2715, 9.8), (2695, 9.8), (2675, 10.1), (2655, 10.0), (2635, 10.3), (2615, 10.2),
    (2595, 10.5), (2575, 10.3), (2555, 10.6), (2535, 10.4), (2515, 10.8), (2495, 10.6),
    (2475, 10.9), (2455, 10.7), (2435, 11.0), (2415, 10.7), (2395, 11.0), (2375, 10.8),
    (2355, 11.1), (2335, 10.8), (2315, 11.2), (2295, 10.9), (2275, 11.2), (2255, 10.9),
    (2235, 11.2), (2215, 10.9), (2195, 11.2), (2175, 10.9), (2155, 11.2), (2135, 10.9),
    (2115, 11.2), (2095, 11.0), (2075, 11.4), (2060, 11.0), (2045, 11.2), (2030, 10.8),
    (2015, 10.9), (2000, 10.6), (1985, 10.8), (1970, 10.4), (1955, 10.6), (1940, 10.4),
    (1925, 10.8), (1910, 10.6), (1895, 10.9), (1880, 10.8), (1865, 11.0), (1850, 11.2),
    (1838, 11.8), (1826, 12.6), (1816, 13.4), (1808, 13.6), (1800, 13.0), (1790, 12.2),
    (1778, 11.8), (1766, 11.4), (1754, 11.0), (1742, 10.6), (1730, 10.2), (1718, 9.8), (1706, 9.6),
    (1694, 9.4), (1682, 9.2), (1670, 9.0), (1660, 8.6), (1650, 9.0), (1640, 9.2), (1628, 9.4),
    (1616, 9.2), (1604, 9.6), (1592, 9.8), (1580, 10.0), (1568, 10.2), (1556, 10.4), (1544, 10.6),
    (1532, 10.6), (1520, 10.9), (1508, 11.0), (1496, 11.2), (1484, 11.4), (1472, 11.8),
    (1462, 12.4), (1452, 11.8), (1442, 12.6), (1432, 12.2), (1420, 12.8), (1410, 12.4),
    (1400, 13.0), (1390, 12.6), (1378, 13.2), (1368, 12.8), (1356, 13.4), (1346, 13.0),
    (1336, 13.6), (1330, 15.0), (1327, 20.0), (1325, 26.0), (1322, 20.0), (1318, 14.0),
    (1310, 13.0), (1300, 12.8), (1290, 12.4), (1278, 12.6), (1266, 12.0), (1254, 12.0),
    (1242, 11.4), (1230, 11.4), (1218, 10.8), (1206, 10.4), (1194, 9.8), (1184, 9.0), (1176, 7.8),
    (1168, 6.0), (1160, 4.4), (1152, 2.6), (1144, 1.6), (1136, 2.8), (1130, 0.8), (1124, 3.4),
    (1116, 5.6), (1108, 5.0), (1100, 7.4), (1090, 8.0), (1080, 9.6), (1070, 9.0), (1060, 10.6),
    (1050, 10.0), (1040, 11.6), (1030, 10.8), (1020, 12.6), (1012, 12.0), (1006, 14.2),
    (1000, 13.0),
]
D_E03 = [
    (3800, -0.2), (3785, 0.4), (3770, -0.4), (3755, 0.2), (3740, -0.6), (3725, 0.0), (3710, -0.4),
    (3695, 0.2), (3680, 0.8), (3665, 0.4), (3650, 1.0), (3635, 0.6), (3620, 0.8), (3605, 0.2),
    (3590, 0.6), (3575, 0.4), (3560, 0.9), (3545, 0.6), (3530, 1.0), (3515, 0.4), (3500, 0.2),
    (3485, -0.4), (3472, -1.0), (3460, -1.6), (3448, -2.4), (3436, -3.2), (3424, -3.8),
    (3412, -4.2), (3400, -4.8), (3388, -5.0), (3376, -5.6), (3364, -5.2), (3352, -5.8),
    (3340, -5.2), (3328, -5.6), (3316, -5.0), (3304, -5.4), (3290, -4.8), (3276, -5.2),
    (3262, -4.6), (3248, -5.0), (3234, -4.4), (3220, -4.8), (3206, -4.2), (3192, -4.6),
    (3178, -4.0), (3164, -4.2), (3150, -3.6), (3136, -3.8), (3122, -3.2), (3108, -3.4),
    (3094, -2.8), (3080, -2.8), (3066, -2.4), (3052, -2.4), (3038, -1.9), (3024, -2.0),
    (3010, -1.6), (2996, -1.5), (2980, -1.2), (2960, -1.0), (2940, -0.6), (2920, -0.6),
    (2900, -0.2), (2880, -0.2), (2860, 0.1), (2840, 0.1), (2820, 0.4), (2800, 0.3), (2780, 0.6),
    (2760, 0.5), (2740, 0.8), (2720, 0.7), (2700, 1.0), (2680, 0.8), (2660, 1.1), (2640, 0.9),
    (2620, 1.2), (2600, 1.0), (2580, 1.3), (2560, 1.1), (2540, 1.4), (2520, 1.2), (2500, 1.4),
    (2480, 1.2), (2460, 1.5), (2440, 1.3), (2420, 1.5), (2400, 1.3), (2380, 1.6), (2360, 1.3),
    (2340, 1.6), (2320, 1.4), (2300, 1.6), (2280, 1.4), (2260, 1.7), (2240, 1.4), (2220, 1.7),
    (2200, 1.5), (2180, 1.7), (2160, 1.5), (2140, 1.8), (2120, 1.5), (2100, 1.8), (2085, 1.6),
    (2070, 1.9), (2055, 1.7), (2045, 2.2), (2035, 3.2), (2028, 4.6), (2022, 5.2), (2016, 4.6),
    (2010, 3.2), (2002, 2.0), (1990, 1.6), (1975, 1.7), (1960, 1.5), (1945, 1.8), (1930, 1.6),
    (1915, 1.8), (1900, 1.6), (1885, 1.9), (1870, 2.0), (1858, 2.4), (1848, 3.0), (1840, 4.0),
    (1832, 5.6), (1824, 8.0), (1816, 10.0), (1808, 10.9), (1800, 10.2), (1792, 8.6), (1784, 6.8),
    (1774, 5.2), (1764, 4.2), (1752, 3.4), (1740, 2.6), (1728, 2.0), (1716, 1.6), (1704, 1.2),
    (1692, 1.0), (1680, 0.8), (1668, 0.6), (1656, 0.7), (1644, 0.4), (1632, 0.8), (1620, 0.6),
    (1608, 1.0), (1596, 0.9), (1584, 1.3), (1572, 1.1), (1560, 1.6), (1548, 1.5), (1536, 1.9),
    (1524, 1.8), (1512, 2.2), (1500, 2.1), (1488, 2.6), (1476, 2.5), (1466, 3.0), (1456, 3.6),
    (1446, 3.2), (1436, 2.6), (1426, 2.8), (1416, 2.4), (1406, 2.8), (1396, 3.0), (1386, 3.2),
    (1376, 3.0), (1366, 3.4), (1356, 3.2), (1346, 3.6), (1338, 4.2), (1330, 6.0), (1326, 7.4),
    (1322, 6.0), (1316, 3.8), (1306, 3.2), (1296, 3.4), (1286, 2.8), (1276, 3.0), (1266, 2.6),
    (1256, 2.8), (1246, 2.4), (1236, 2.6), (1226, 2.0), (1216, 2.2), (1206, 1.6), (1196, 2.0),
    (1186, 1.2), (1178, 1.6), (1170, 0.6), (1162, 1.0), (1154, -0.2), (1146, 0.2), (1138, -0.6),
    (1132, -1.1), (1124, -0.2), (1116, 0.6), (1108, 0.6), (1100, 1.4), (1090, 1.2), (1080, 2.0),
    (1070, 2.2), (1060, 2.8), (1050, 2.4), (1040, 2.9), (1030, 3.2), (1020, 2.6), (1010, 3.0),
    (1000, 2.8),
]
D_E02 = [
    (3800, -5.0), (3788, -5.6), (3776, -6.4), (3764, -7.2), (3752, -6.8), (3740, -7.4),
    (3728, -6.8), (3716, -7.2), (3704, -6.6), (3692, -7.0), (3680, -6.6), (3668, -7.2),
    (3656, -6.8), (3644, -7.6), (3632, -7.0), (3620, -7.4), (3608, -6.8), (3596, -7.4),
    (3584, -6.9), (3572, -7.6), (3560, -7.0), (3548, -7.5), (3536, -6.9), (3524, -7.6),
    (3512, -7.1), (3500, -7.8), (3488, -7.2), (3476, -8.0), (3464, -7.4), (3452, -8.2),
    (3440, -7.6), (3428, -8.4), (3416, -7.8), (3404, -8.2), (3392, -7.6), (3380, -8.0),
    (3368, -7.4), (3356, -7.8), (3344, -7.2), (3332, -7.6), (3320, -7.0), (3305, -7.5),
    (3290, -6.9), (3275, -7.3), (3260, -6.8), (3245, -7.2), (3230, -6.6), (3215, -7.0),
    (3200, -6.5), (3180, -6.9), (3160, -6.4), (3140, -6.8), (3120, -6.3), (3100, -6.6),
    (3080, -6.2), (3060, -6.5), (3040, -6.1), (3020, -6.4), (3000, -6.0), (2980, -6.3),
    (2960, -5.9), (2940, -6.2), (2920, -5.8), (2900, -6.1), (2880, -5.7), (2860, -6.0),
    (2840, -5.7), (2820, -6.0), (2800, -5.6), (2780, -5.9), (2760, -5.6), (2740, -5.9),
    (2720, -5.5), (2700, -5.8), (2680, -5.5), (2660, -5.8), (2640, -5.5), (2620, -5.7),
    (2600, -5.4), (2580, -5.7), (2560, -5.4), (2540, -5.7), (2520, -5.4), (2500, -5.6),
    (2480, -5.3), (2460, -5.6), (2440, -5.3), (2420, -5.6), (2400, -5.3), (2380, -5.5),
    (2360, -5.3), (2340, -5.5), (2320, -5.2), (2300, -5.5), (2280, -5.2), (2260, -5.4),
    (2240, -5.2), (2220, -5.4), (2200, -5.1), (2180, -5.4), (2160, -5.1), (2140, -5.3),
    (2120, -5.1), (2100, -5.3), (2080, -5.0), (2060, -5.2), (2045, -5.0), (2032, -4.6),
    (2022, -3.9), (2014, -4.2), (2006, -4.8), (1996, -5.2), (1980, -5.3), (1965, -5.0),
    (1950, -5.3), (1935, -5.0), (1920, -5.2), (1905, -4.9), (1890, -5.1), (1875, -4.8),
    (1862, -4.6), (1850, -4.0), (1840, -3.2), (1830, -2.4), (1820, -1.6), (1812, -1.4),
    (1804, -1.8), (1796, -2.6), (1786, -3.4), (1776, -4.0), (1764, -4.6), (1752, -4.8),
    (1740, -5.0), (1726, -5.2), (1712, -4.9), (1698, -5.2), (1684, -5.0), (1670, -5.0),
    (1658, -4.7), (1646, -5.1), (1634, -5.0), (1620, -5.2), (1606, -5.0), (1592, -5.3),
    (1578, -5.0), (1564, -5.2), (1550, -4.9), (1536, -5.2), (1522, -4.9), (1508, -5.3),
    (1496, -5.0), (1486, -5.4), (1476, -4.8), (1466, -4.2), (1456, -3.8), (1446, -4.4),
    (1436, -3.8), (1426, -4.2), (1414, -3.6), (1402, -4.2), (1390, -3.6), (1378, -4.0),
    (1366, -3.4), (1356, -3.8), (1346, -3.2), (1336, -3.8), (1326, -3.6), (1316, -4.0),
    (1304, -3.4), (1294, -4.0), (1282, -3.6), (1270, -4.2), (1258, -3.8), (1246, -4.6),
    (1234, -4.0), (1222, -4.8), (1212, -4.2), (1202, -5.2), (1192, -3.8), (1182, -4.6),
    (1172, -3.4), (1164, -4.2), (1156, -2.8), (1148, -3.6), (1140, -2.0), (1132, -3.2),
    (1124, -1.4), (1116, -2.6), (1108, -1.6), (1100, -2.6), (1090, -2.0), (1080, -3.0),
    (1070, -2.2), (1060, -3.2), (1050, -2.6), (1040, -3.4), (1030, -2.8), (1020, -3.6),
    (1010, -3.0), (1000, -3.6),
]
D_E01 = [
    (3800, -12.8), (3785, -11.6), (3770, -12.6), (3755, -11.4), (3740, -12.4), (3725, -11.2),
    (3710, -12.2), (3695, -11.0), (3680, -12.0), (3665, -10.8), (3650, -12.0), (3635, -10.8),
    (3620, -11.8), (3605, -10.8), (3590, -12.2), (3575, -11.0), (3560, -11.8), (3545, -10.6),
    (3530, -11.6), (3515, -10.6), (3500, -11.8), (3485, -10.6), (3470, -11.6), (3455, -10.4),
    (3440, -11.4), (3425, -10.2), (3410, -11.2), (3395, -10.2), (3380, -11.2), (3365, -10.4),
    (3350, -11.4), (3335, -10.2), (3320, -11.0), (3305, -10.0), (3290, -11.0), (3275, -10.2),
    (3260, -11.2), (3245, -10.4), (3230, -11.4), (3215, -10.6), (3200, -11.4), (3185, -10.8),
    (3170, -11.6), (3155, -11.0), (3140, -11.8), (3120, -11.2), (3100, -12.0), (3080, -11.4),
    (3060, -12.2), (3040, -11.6), (3020, -12.4), (3000, -11.8), (2980, -12.6), (2960, -12.0),
    (2940, -12.8), (2920, -12.2), (2900, -12.9), (2880, -12.4), (2860, -13.0), (2840, -12.5),
    (2820, -13.0), (2800, -12.6), (2780, -13.1), (2760, -12.6), (2740, -13.2), (2720, -12.7),
    (2700, -13.2), (2680, -12.8), (2660, -13.3), (2640, -12.8), (2620, -13.3), (2600, -12.8),
    (2580, -13.3), (2560, -12.9), (2540, -13.4), (2520, -12.9), (2500, -13.4), (2480, -12.9),
    (2460, -13.3), (2440, -12.9), (2420, -13.3), (2400, -12.9), (2380, -13.3), (2360, -12.8),
    (2340, -13.3), (2320, -12.8), (2300, -13.3), (2280, -12.8), (2260, -13.2), (2240, -12.8),
    (2220, -13.2), (2200, -12.8), (2180, -13.2), (2160, -12.7), (2140, -13.1), (2120, -12.6),
    (2100, -13.0), (2080, -12.6), (2062, -12.8), (2048, -12.2), (2038, -11.0), (2030, -9.4),
    (2024, -8.2), (2018, -8.8), (2012, -10.4), (2004, -12.0), (1994, -12.8), (1982, -12.9),
    (1968, -12.5), (1954, -12.9), (1940, -12.6), (1926, -13.0), (1912, -12.6), (1898, -12.9),
    (1884, -12.6), (1870, -12.8), (1858, -12.4), (1846, -11.8), (1836, -11.0), (1826, -10.4),
    (1816, -10.2), (1806, -10.6), (1796, -11.2), (1784, -11.8), (1772, -12.2), (1760, -12.4),
    (1748, -12.8), (1736, -12.4), (1724, -12.8), (1712, -12.2), (1700, -12.6), (1688, -12.0),
    (1676, -12.2), (1664, -11.6), (1652, -11.8), (1640, -12.2), (1628, -12.0), (1616, -12.4),
    (1604, -12.0), (1592, -12.4), (1580, -12.0), (1568, -12.5), (1556, -12.0), (1544, -12.4),
    (1532, -11.9), (1520, -12.3), (1508, -11.8), (1496, -12.2), (1486, -11.4), (1476, -10.6),
    (1466, -11.2), (1456, -10.4), (1446, -11.0), (1436, -10.2), (1426, -10.8), (1416, -10.0),
    (1406, -10.8), (1396, -10.2), (1386, -11.0), (1376, -10.2), (1366, -10.8), (1356, -9.8),
    (1346, -10.4), (1336, -9.6), (1326, -10.2), (1316, -9.2), (1306, -9.8), (1296, -8.8),
    (1286, -9.6), (1276, -8.6), (1266, -9.4), (1256, -8.2), (1246, -9.0), (1236, -7.8),
    (1226, -8.6), (1216, -8.6), (1206, -9.2), (1196, -8.0), (1188, -8.8), (1180, -7.6),
    (1172, -8.4), (1164, -7.0), (1156, -8.2), (1148, -6.4), (1140, -8.6), (1134, -5.2),
    (1128, -9.8), (1122, -6.0), (1116, -5.4), (1110, -9.4), (1104, -7.6), (1100, -8.6),
    (1090, -9.0), (1080, -10.0), (1070, -9.2), (1060, -10.4), (1050, -9.6), (1040, -10.3),
    (1030, -9.4), (1020, -10.0), (1010, -9.0), (1000, -9.2),
]
D_E00 = [
    (3800, -19.6), (3785, -18.6), (3770, -19.8), (3755, -18.4), (3740, -19.2), (3725, -18.2),
    (3710, -19.0), (3695, -18.0), (3680, -19.0), (3665, -18.0), (3650, -18.8), (3635, -17.8),
    (3620, -18.8), (3605, -17.6), (3590, -18.6), (3575, -17.6), (3560, -18.6), (3545, -17.8),
    (3530, -18.6), (3515, -17.6), (3500, -18.4), (3485, -17.4), (3470, -18.2), (3455, -17.2),
    (3440, -18.0), (3425, -17.0), (3410, -17.8), (3395, -16.8), (3380, -17.8), (3365, -16.8),
    (3350, -17.6), (3335, -16.8), (3320, -17.6), (3305, -16.6), (3290, -17.4), (3275, -16.6),
    (3260, -17.4), (3245, -16.8), (3230, -17.6), (3215, -17.0), (3200, -17.8), (3185, -17.2),
    (3170, -18.0), (3155, -17.4), (3140, -18.2), (3120, -17.6), (3100, -18.4), (3080, -17.8),
    (3060, -18.6), (3040, -18.0), (3020, -18.8), (3000, -18.2), (2980, -18.9), (2960, -18.3),
    (2940, -19.0), (2920, -18.4), (2900, -19.0), (2880, -18.4), (2860, -19.0), (2840, -18.5),
    (2820, -19.0), (2800, -18.5), (2780, -19.1), (2760, -18.6), (2740, -19.1), (2720, -18.6),
    (2700, -19.1), (2680, -18.6), (2660, -19.1), (2640, -18.6), (2620, -19.1), (2600, -18.6),
    (2580, -19.0), (2560, -18.6), (2540, -19.0), (2520, -18.6), (2500, -19.0), (2480, -18.5),
    (2460, -19.0), (2440, -18.5), (2420, -18.9), (2400, -18.5), (2380, -18.9), (2360, -18.4),
    (2340, -18.9), (2320, -18.4), (2300, -18.8), (2280, -18.4), (2260, -18.8), (2240, -18.3),
    (2220, -18.7), (2200, -18.3), (2180, -18.7), (2160, -18.2), (2140, -18.6), (2120, -18.2),
    (2100, -18.5), (2080, -18.1), (2062, -18.3), (2048, -17.6), (2038, -16.2), (2030, -14.6),
    (2024, -13.8), (2018, -14.4), (2012, -15.8), (2004, -17.6), (1994, -18.3), (1982, -18.5),
    (1968, -18.2), (1954, -18.6), (1940, -18.3), (1926, -18.6), (1912, -18.2), (1898, -18.5),
    (1884, -18.1), (1870, -18.2), (1858, -17.8), (1846, -17.2), (1836, -16.6), (1826, -16.2),
    (1816, -16.1), (1806, -16.5), (1796, -17.0), (1784, -17.6), (1772, -18.0), (1760, -18.2),
    (1748, -18.4), (1736, -18.0), (1724, -18.4), (1712, -18.0), (1700, -18.3), (1688, -17.8),
    (1676, -17.6), (1664, -17.2), (1652, -17.4), (1640, -17.8), (1628, -17.6), (1616, -18.1),
    (1604, -17.6), (1592, -18.0), (1580, -17.5), (1568, -17.9), (1556, -17.4), (1544, -17.8),
    (1532, -17.3), (1520, -17.7), (1508, -17.2), (1496, -17.8), (1486, -16.8), (1476, -15.8),
    (1466, -16.8), (1456, -15.4), (1446, -16.6), (1436, -15.2), (1426, -16.4), (1416, -15.0),
    (1406, -16.2), (1396, -15.4), (1386, -16.6), (1376, -15.4), (1366, -16.2), (1356, -14.8),
    (1346, -15.8), (1336, -14.6), (1326, -15.6), (1316, -14.2), (1306, -15.2), (1296, -13.8),
    (1286, -15.0), (1276, -13.6), (1266, -14.8), (1256, -13.4), (1246, -14.6), (1236, -13.0),
    (1226, -14.4), (1216, -12.8), (1206, -14.4), (1196, -12.6), (1188, -14.2), (1180, -12.4),
    (1172, -13.8), (1164, -11.8), (1156, -14.0), (1148, -12.4), (1140, -17.2), (1134, -11.0),
    (1128, -10.6), (1122, -17.8), (1116, -12.4), (1110, -11.2), (1104, -16.2), (1096, -13.0),
    (1088, -14.4), (1078, -12.8), (1068, -14.4), (1058, -13.0), (1048, -14.6), (1038, -12.4),
    (1026, -13.6), (1014, -12.0), (1004, -13.2), (1000, -13.8),
]

# dotted guide lines: (wave number, upper end / 1e-3 a.u.)
GUIDES = [(3550, 9.9), (3520, 9.9), (1650, 10.0), (1660, 12.8)]
GUIDE_TEXT = ["3550 cm$^{-1}$", "3520 cm$^{-1}$", "1650 cm$^{-1}$", "1660 cm$^{-1}$"]

RED = "#ff0000"
BLUE = "#0000ff"
GREEN = "#00ff00"
PINK = "#ff1a8c"
GREY = "#c0c0c0"


def draw(ax, series, color):
    wn = [p[0] for p in series]
    absorbance = [p[1] * 1e-3 for p in series]
    ax.plot(wn, absorbance, color=color, lw=0.8)


fig, axes = plt.subplots(2, 2, figsize=(6.9, 9.0), dpi=100, sharex=True, sharey=True)
fig.subplots_adjust(left=0.0913, right=0.9957, top=0.9967, bottom=0.05, wspace=0, hspace=0)
ax_a, ax_b = axes[0]
ax_c, ax_d = axes[1]

panels = [
    (ax_a, [(A_H2CO_23C, RED), (A_D2CO_23C, BLUE), (A_H2CO_3C, GREEN), (A_D2CO_3C, PINK)]),
    (ax_b, [(B_H2CO_23C, RED), (B_D2CO_23C, BLUE), (B_H2CO_3C, GREEN), (B_D2CO_3C, PINK)]),
    (ax_c, [(C_E04, RED), (C_E03, BLUE), (C_E02, GREY), (C_E01, GREEN), (C_E00, PINK)]),
    (ax_d, [(D_E04, RED), (D_E03, BLUE), (D_E02, GREY), (D_E01, GREEN), (D_E00, PINK)]),
]

for ax, spectra in panels:
    for series, color in spectra:
        draw(ax, series, color)

for ax in axes.flat:
    ax.set_xlim(3800, 1005)
    ax.set_ylim(-0.025, 0.025)
    ax.xaxis.set_major_locator(MultipleLocator(500))
    ax.xaxis.set_minor_locator(MultipleLocator(100))
    ax.yaxis.set_major_locator(MultipleLocator(0.01))
    ax.yaxis.set_minor_locator(MultipleLocator(0.005))
    ax.yaxis.set_major_formatter(FormatStrFormatter("%.2f"))
    ax.tick_params(which="both", direction="in", top=True, right=True, width=0.8,
                   labelsize=9.5, color="black")
    ax.tick_params(which="major", length=4.5)
    ax.tick_params(which="minor", length=2.5)
    ax.tick_params(axis="x", pad=6)
    ax.tick_params(axis="y", pad=4)
    for spine in ax.spines.values():
        spine.set_linewidth(1.0)

# guide lines and their labels
guide_spots = [(ax_a, 3527, 10.9), (ax_b, 3521, 10.9), (ax_c, 1655, 11.1), (ax_d, 1640, 13.0)]
for (ax, tx, ty), (wn, top), label in zip(guide_spots, GUIDES, GUIDE_TEXT):
    ax.vlines(wn, -0.025, top * 1e-3, colors="#8a8a8a", linestyles=(0, (1, 1.5)), lw=0.9)
    ax.text(tx, ty * 1e-3, label, rotation=90, ha="center", va="bottom", fontsize=9.5)

fs = 11
ax_a.text(3506, 0.0211, "(a)", ha="center", va="baseline", fontsize=fs)
ax_a.text(2518, 0.0211, "E$_{ad}$ = 0.0 V", ha="center", va="baseline", fontsize=fs)
ax_a.text(2726, 0.0065, "H$_2$CO, 23 °C", ha="center", va="baseline", fontsize=fs)
ax_a.text(2723, -0.0016, "D$_2$CO, 23 °C", ha="center", va="baseline", fontsize=fs)
ax_a.text(2690, -0.01045, "H$_2$CO, 3 °C", ha="center", va="baseline", fontsize=fs)
ax_a.text(2705, -0.0180, "D$_2$CO, 3 °C", ha="center", va="baseline", fontsize=fs)

ax_b.text(3491, 0.0210, "(b)", ha="center", va="baseline", fontsize=fs)
ax_b.text(2534, 0.0210, "E$_{ad}$ = 0.4 V", ha="center", va="baseline", fontsize=fs)

ax_c.text(3506, 0.0211, "(c)", ha="center", va="baseline", fontsize=fs)
ax_c.text(2492, 0.0211, "CD$_2$O, 3 °C", ha="center", va="baseline", fontsize=fs)
ax_c.text(2534, 0.0083, "E$_{ad}$ = 0.4 V", ha="center", va="baseline", fontsize=fs)
ax_c.text(2549, -0.0006, "E$_{ad}$ = 0.3 V", ha="center", va="baseline", fontsize=fs)
ax_c.text(2567, -0.0054, "E$_{ad}$ = 0.2 V", ha="center", va="baseline", fontsize=fs)
ax_c.text(2567, -0.0147, "E$_{ad}$ = 0.1 V", ha="center", va="baseline", fontsize=fs)
ax_c.text(2558, -0.0206, "E$_{ad}$ = 0.0 V", ha="center", va="baseline", fontsize=fs)

ax_d.text(3491, 0.0211, "(d)", ha="center", va="baseline", fontsize=fs)
ax_d.text(2510, 0.0211, "CH$_2$O, 3 °C", ha="center", va="baseline", fontsize=fs)

fig.text(0.019, 0.523, "Absorbance / a.u.", rotation=90, ha="center", va="center", fontsize=12)
fig.text(0.548, 0.001, "Wave number / cm$^{-1}$", ha="center", va="bottom", fontsize=13)

fig.savefig("out.png", dpi=100)
plt.close(fig)
